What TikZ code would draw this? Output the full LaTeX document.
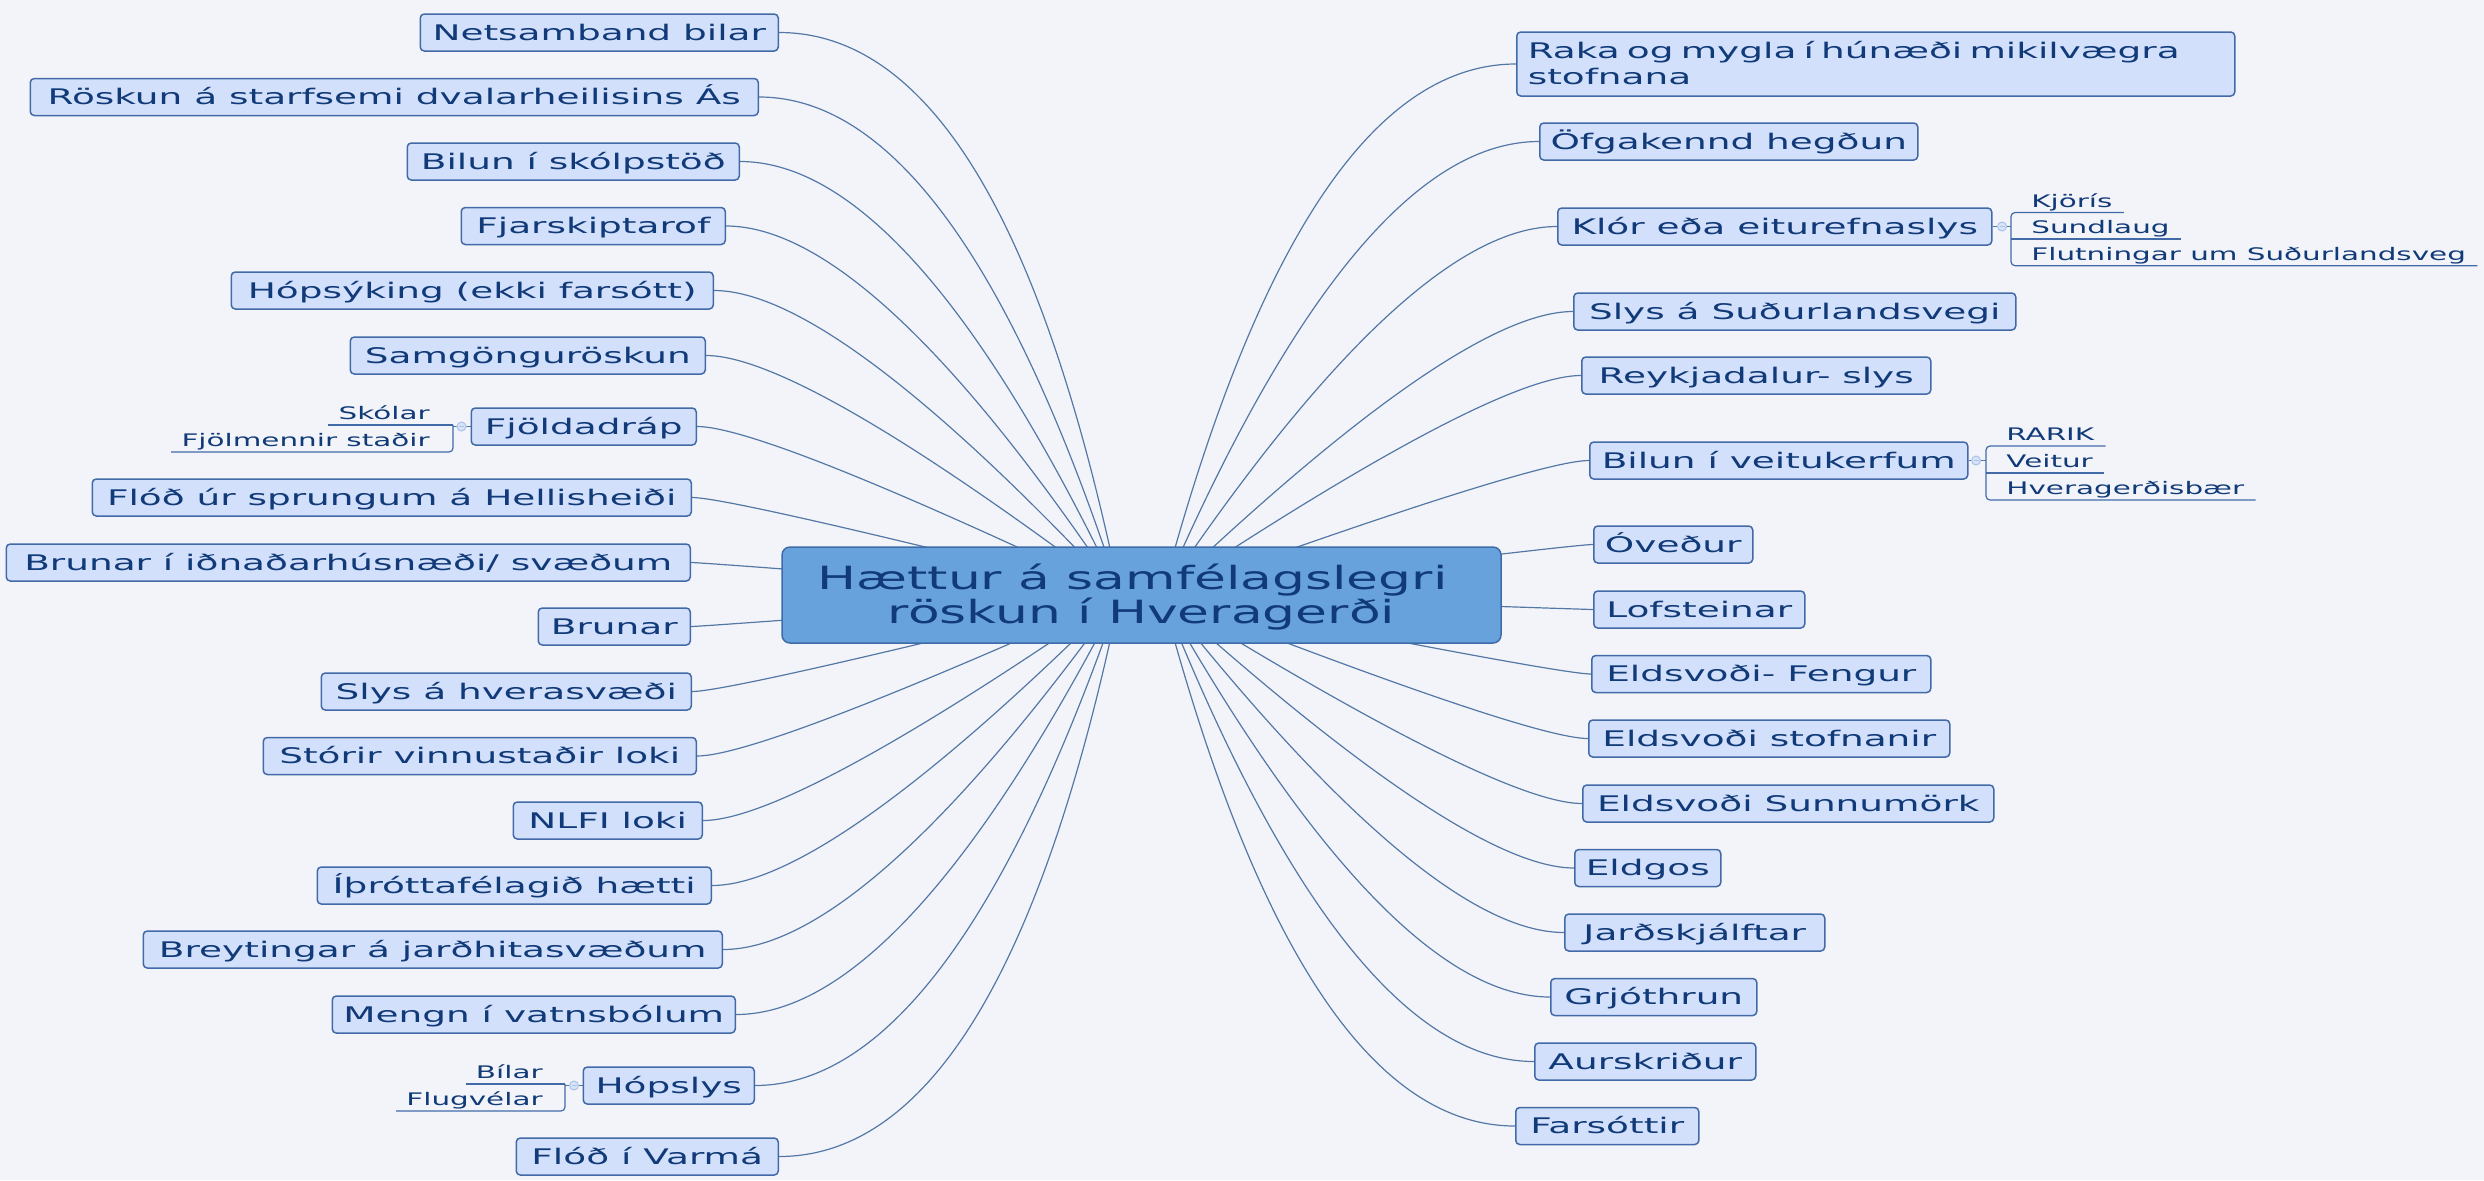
\documentclass[tikz,border=0pt]{standalone}
\usepackage{fontspec}
\newfontfamily\nodefont{DejaVu Sans}[FakeStretch=1.74]
\newfontfamily\subfont{DejaVu Sans}[FakeStretch=1.70]
\newfontfamily\centerfont{DejaVu Sans}[FakeStretch=1.62]
\usetikzlibrary{calc}
\definecolor{bg}{RGB}{243,244,249}
\definecolor{boxfill}{RGB}{211,224,252}
\definecolor{boxdraw}{RGB}{66,106,168}
\definecolor{txt}{RGB}{16,58,120}
\definecolor{cfill}{RGB}{104,162,221}
\definecolor{cdraw}{RGB}{62,108,168}
\definecolor{connc}{RGB}{84,120,166}
\definecolor{knobfill}{RGB}{214,227,248}
\definecolor{knobdraw}{RGB}{170,195,232}
\pgfdeclarelayer{canvas}
\pgfdeclarelayer{bglayer}
\pgfsetlayers{canvas,bglayer,main}
\newcommand\mmbranch[3]{%
  \draw[connline] let \p1=(#1), \p2=(#2), \n1={abs((\y1)-(\y2))} in
  (\p1) .. controls ({(\x1)+(#3)*0.26667*\n1},{\y1}) and
  ({(\x2)+0.66667*((\x1)+(#3)*0.4*\n1-(\x2))},{(\y2)+0.66667*((\y1)-(\y2))}) .. (\p2);}
\begin{document}
\begin{tikzpicture}[x=0.5pt,y=-0.5pt,
  topic/.style={draw=boxdraw, fill=boxfill, line width=0.75pt, rounded corners=2pt,
    text=txt, font=\nodefont\fontsize{10.75pt}{13pt}\selectfont,
    minimum height=18.5pt, inner xsep=0pt, inner ysep=0pt,
    text height=7.85pt, text depth=0pt},
  ltopic/.style={topic, anchor=east},
  rtopic/.style={topic, anchor=west},
  central/.style={draw=cdraw, fill=cfill, line width=0.75pt, rounded corners=4pt,
    text=txt, font=\centerfont\fontsize{16pt}{17pt}\selectfont, align=center,
    minimum width=359.5pt, minimum height=48pt, inner sep=0pt,
    text height=28.7pt, text depth=0pt},
  subtxt/.style={text=txt, font=\subfont\fontsize{8.65pt}{10pt}\selectfont, inner sep=0pt},
  subln/.style={draw=boxdraw, line width=0.6pt},
  connline/.style={draw=connc, line width=0.6pt},
  knob/.style={circle, minimum size=4.5pt, inner sep=0pt, fill=knobfill, draw=knobdraw, line width=0.5pt,
    path picture={\draw[knobdraw, line width=0.4pt] ([xshift=1pt]path picture bounding box.west) -- ([xshift=-1pt]path picture bounding box.east);}}
]
\begin{pgfonlayer}{canvas}
\fill[bg] (0,0) rectangle (2484,1180);
\end{pgfonlayer}
\useasboundingbox (0,0) rectangle (2484,1180);

% central topic
\node[central] (C) at (1141.5,595) {Hættur á samfélagslegri\hspace*{9pt}\\röskun í Hveragerði};
\coordinate (EL) at (1120,595);
\coordinate (ER) at (1162,595);

% left topics
\node[ltopic, minimum width=179pt]   (L1)  at (779,32.5)  {Netsamband bilar};
\node[ltopic, minimum width=364pt]   (L2)  at (759,97)    {Röskun á starfsemi dvalarheilisins Ás};
\node[ltopic, minimum width=166pt]   (L3)  at (740,161.5) {Bilun í skólpstöð};
\node[ltopic, minimum width=132pt]   (L4)  at (726,226)   {Fjarskiptarof};
\node[ltopic, minimum width=241pt]   (L5)  at (714,290.5) {Hópsýking (ekki farsótt)};
\node[ltopic, minimum width=177.5pt] (L6)  at (706,355.5) {Samgönguröskun};
\node[ltopic, minimum width=112.5pt] (L7)  at (697,426.5) {Fjöldadráp};
\node[ltopic, minimum width=299.5pt] (L8)  at (692,497.5) {Flóð úr sprungum á Hellisheiði};
\node[ltopic, minimum width=342pt]   (L9)  at (691,562.5) {Brunar í iðnaðarhúsnæði/ svæðum};
\node[ltopic, minimum width=76pt]    (L10) at (691,626.5) {Brunar};
\node[ltopic, minimum width=185pt]   (L11) at (692,691.5) {Slys á hverasvæði};
\node[ltopic, minimum width=216.5pt] (L12) at (697,756)   {Stórir vinnustaðir loki};
\node[ltopic, minimum width=94.5pt]  (L13) at (703,820.5) {NLFI loki};
\node[ltopic, minimum width=197pt]   (L14) at (712,885.5) {Íþróttafélagið hætti};
\node[ltopic, minimum width=289.5pt] (L15) at (723,949.5) {Breytingar á jarðhitasvæðum};
\node[ltopic, minimum width=201.5pt] (L16) at (736,1014.5) {Mengn í vatnsbólum};
\node[ltopic, minimum width=85.5pt]  (L17) at (755,1085.5) {Hópslys};
\node[ltopic, minimum width=131pt]   (L18) at (779,1156.5) {Flóð í Varmá};

% right topics
\node[rtopic, minimum width=359pt, minimum height=32pt, align=left, text width=348pt,
      inner xsep=5.5pt, text depth=13pt] (R1) at (1516,64) {Raka og mygla í húnæði mikilvægra\\stofnana};
\node[rtopic, minimum width=189pt]   (R2)  at (1539,141.5) {Öfgakennd hegðun};
\node[rtopic, minimum width=217pt]   (R3)  at (1557,226.5) {Klór eða eiturefnaslys};
\node[rtopic, minimum width=221pt]   (R4)  at (1573,311.5) {Slys á Suðurlandsvegi};
\node[rtopic, minimum width=174.5pt] (R5)  at (1581,375.5) {Reykjadalur- slys};
\node[rtopic, minimum width=189pt]   (R6)  at (1589,460.5) {Bilun í veitukerfum};
\node[rtopic, minimum width=79.5pt]  (R7)  at (1593,544.5) {Óveður};
\node[rtopic, minimum width=105.5pt] (R8)  at (1593,609.5) {Lofsteinar};
\node[rtopic, minimum width=169.5pt] (R9)  at (1591,674)   {Eldsvoði- Fengur};
\node[rtopic, minimum width=180.5pt] (R10) at (1588,738.5) {Eldsvoði stofnanir};
\node[rtopic, minimum width=205.5pt] (R11) at (1582,803.5) {Eldsvoði Sunnumörk};
\node[rtopic, minimum width=73pt]    (R12) at (1574,868)   {Eldgos};
\node[rtopic, minimum width=130pt]   (R13) at (1564,932.5) {Jarðskjálftar};
\node[rtopic, minimum width=103pt]   (R14) at (1550,997)   {Grjóthrun};
\node[rtopic, minimum width=110.5pt] (R15) at (1534,1061.5) {Aurskriður};
\node[rtopic, minimum width=91.5pt]  (R16) at (1515,1126)  {Farsóttir};

% main branches
\begin{pgfonlayer}{bglayer}
\foreach \i in {1,...,18} {\mmbranch{L\i.east}{EL}{1}}
\foreach \i in {1,...,16} {\mmbranch{R\i.west}{ER}{-1}}
\end{pgfonlayer}

% --- Fjöldadráp sub-topics
\node[knob] (K7) at (461.5,426.5) {};
\coordinate (B7) at (453,426.5);
\node[subtxt, anchor=base east] (L7a) at (430,419.5) {Skólar};
\node[subtxt, anchor=base east] (L7b) at (430,446.5) {Fjölmennir staðir};
\begin{pgfonlayer}{bglayer}
\draw[connline] (L7.west) -- (B7);
\end{pgfonlayer}
\draw[subln] ($(L7a.base west)+(-10,5.5)$) -- ($(L7a.base east)+(23,5.5)$);
\draw[subln, rounded corners=2pt] ($(L7a.base east)+(23,5.5)$) -- ($(L7b.base east)+(23,5.5)$) -- ($(L7b.base west)+(-10,5.5)$);

% --- Hópslys sub-topics
\node[knob] (K17) at (574,1085.5) {};
\coordinate (B17) at (565,1085.5);
\node[subtxt, anchor=base east] (L17a) at (543,1078.5) {Bílar};
\node[subtxt, anchor=base east] (L17b) at (543,1105.5) {Flugvélar};
\begin{pgfonlayer}{bglayer}
\draw[connline] (L17.west) -- (B17);
\end{pgfonlayer}
\draw[subln] ($(L17a.base west)+(-10,5.5)$) -- ($(L17a.base east)+(22,5.5)$);
\draw[subln, rounded corners=2pt] ($(L17a.base east)+(22,5.5)$) -- ($(L17b.base east)+(22,5.5)$) -- ($(L17b.base west)+(-10,5.5)$);

% --- Klór sub-topics
\node[knob] (K3) at (2002,226.5) {};
\coordinate (B3) at (2011,226.5);
\node[subtxt, anchor=base west] (R3a) at (2031,207)   {Kjörís};
\node[subtxt, anchor=base west] (R3b) at (2031,233.5) {Sundlaug};
\node[subtxt, anchor=base west] (R3c) at (2031,260.2) {Flutningar um Suðurlandsveg};
\begin{pgfonlayer}{bglayer}
\draw[connline] (R3.east) -- (B3);
\end{pgfonlayer}
\draw[subln, rounded corners=2pt] ($(R3a.base east)+(11,5.5)$) -- ($(R3a.base west)+(-20,5.5)$) -- ($(R3c.base west)+(-20,5.5)$) -- ($(R3c.base east)+(11,5.5)$);
\draw[subln] ($(R3b.base west)+(-20,5.5)$) -- ($(R3b.base east)+(11,5.5)$);

% --- Bilun í veitukerfum sub-topics
\node[knob] (K6) at (1976,460.5) {};
\coordinate (B6) at (1986,460.5);
\node[subtxt, anchor=base west] (R6a) at (2006,440.5) {RARIK};
\node[subtxt, anchor=base west] (R6b) at (2006,467.5) {Veitur};
\node[subtxt, anchor=base west] (R6c) at (2006,494.5) {Hveragerðisbær};
\begin{pgfonlayer}{bglayer}
\draw[connline] (R6.east) -- (B6);
\end{pgfonlayer}
\draw[subln, rounded corners=2pt] ($(R6a.base east)+(11,5.5)$) -- ($(R6a.base west)+(-20,5.5)$) -- ($(R6c.base west)+(-20,5.5)$) -- ($(R6c.base east)+(11,5.5)$);
\draw[subln] ($(R6b.base west)+(-20,5.5)$) -- ($(R6b.base east)+(11,5.5)$);
\end{tikzpicture}
\end{document}
